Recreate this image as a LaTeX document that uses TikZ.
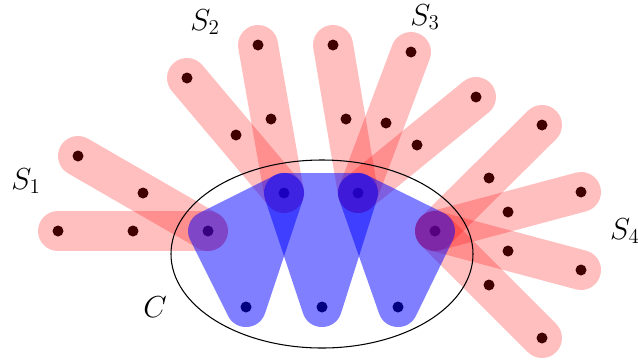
\documentclass[tikz,border=0pt]{standalone}
\usepackage{amsmath,amssymb}
\usetikzlibrary{positioning}

\begin{document}
\begin{tikzpicture}[
  x=0.02cm,y=-0.02cm,
  every node/.style={font=\fontsize{18}{20}\selectfont},
  dot/.style={circle,fill=black,inner sep=0pt,minimum size=0.22cm},
  hyper/.style={line width=0.8cm,line cap=round,red,opacity=0.25},
  core/.style={line width=0.8cm,line join=round,draw=blue,fill=blue}
]
  \useasboundingbox (0,0) rectangle (638,362);

  % vertices of C
  \node[dot] (a1) at (208,231) {};
  \node[dot] (a2) at (284,193) {};
  \node[dot] (a3) at (358,193) {};
  \node[dot] (a4) at (435,231) {};
  \node[dot] (b1) at (246,307) {};
  \node[dot] (b2) at (322,307) {};
  \node[dot] (b3) at (398,307) {};

  % outer vertices of the stars
  \node[dot] (u1) at (58,231) {};   \node[dot] (v1) at (133,231) {};
  \node[dot] (u2) at (78,156) {};   \node[dot] (v2) at (143,193) {};
  \node[dot] (u3) at (187,78) {};   \node[dot] (v3) at (236,135) {};
  \node[dot] (u4) at (258,45) {};   \node[dot] (v4) at (271,119) {};
  \node[dot] (u5) at (333,45) {};   \node[dot] (v5) at (346,119) {};
  \node[dot] (u6) at (411,52) {};   \node[dot] (v6) at (386,123) {};
  \node[dot] (u7) at (476,97) {};   \node[dot] (v7) at (417,145) {};
  \node[dot] (u8) at (542,125) {};  \node[dot] (v8) at (489,178) {};
  \node[dot] (u9) at (581,192) {};  \node[dot] (v9) at (508,212) {};
  \node[dot] (u10) at (581,270) {}; \node[dot] (v10) at (508,251) {};
  \node[dot] (u11) at (542,338) {}; \node[dot] (v11) at (489,285) {};

  \foreach \f/\h in {u1/a1,u2/a1,u3/a2,u4/a2,u5/a3,u6/a3,u7/a3,u8/a4,u9/a4,u10/a4,u11/a4}
    \draw[hyper] (\f.center) -- (\h.center);

  \foreach \p/\q/\r in {a1/a2/b1,a2/a3/b2,a3/a4/b3}{
    \begin{scope}[transparency group,opacity=0.5]
      \filldraw[core] (\p.center) -- (\q.center) -- (\r.center) -- cycle;
    \end{scope}
  }

  \draw[semithick] (322,254) ellipse [x radius=151,y radius=94];

  \node (s1) at (26,181) {$S_1$};
  \node (s2) at (205,22) {$S_2$};
  \node (s3) at (425,17) {$S_3$};
  \node[anchor=west] (s4) at (604,231) {$S_4$};
  \node (c) at (155,307) {$C$};
\end{tikzpicture}
\end{document}
